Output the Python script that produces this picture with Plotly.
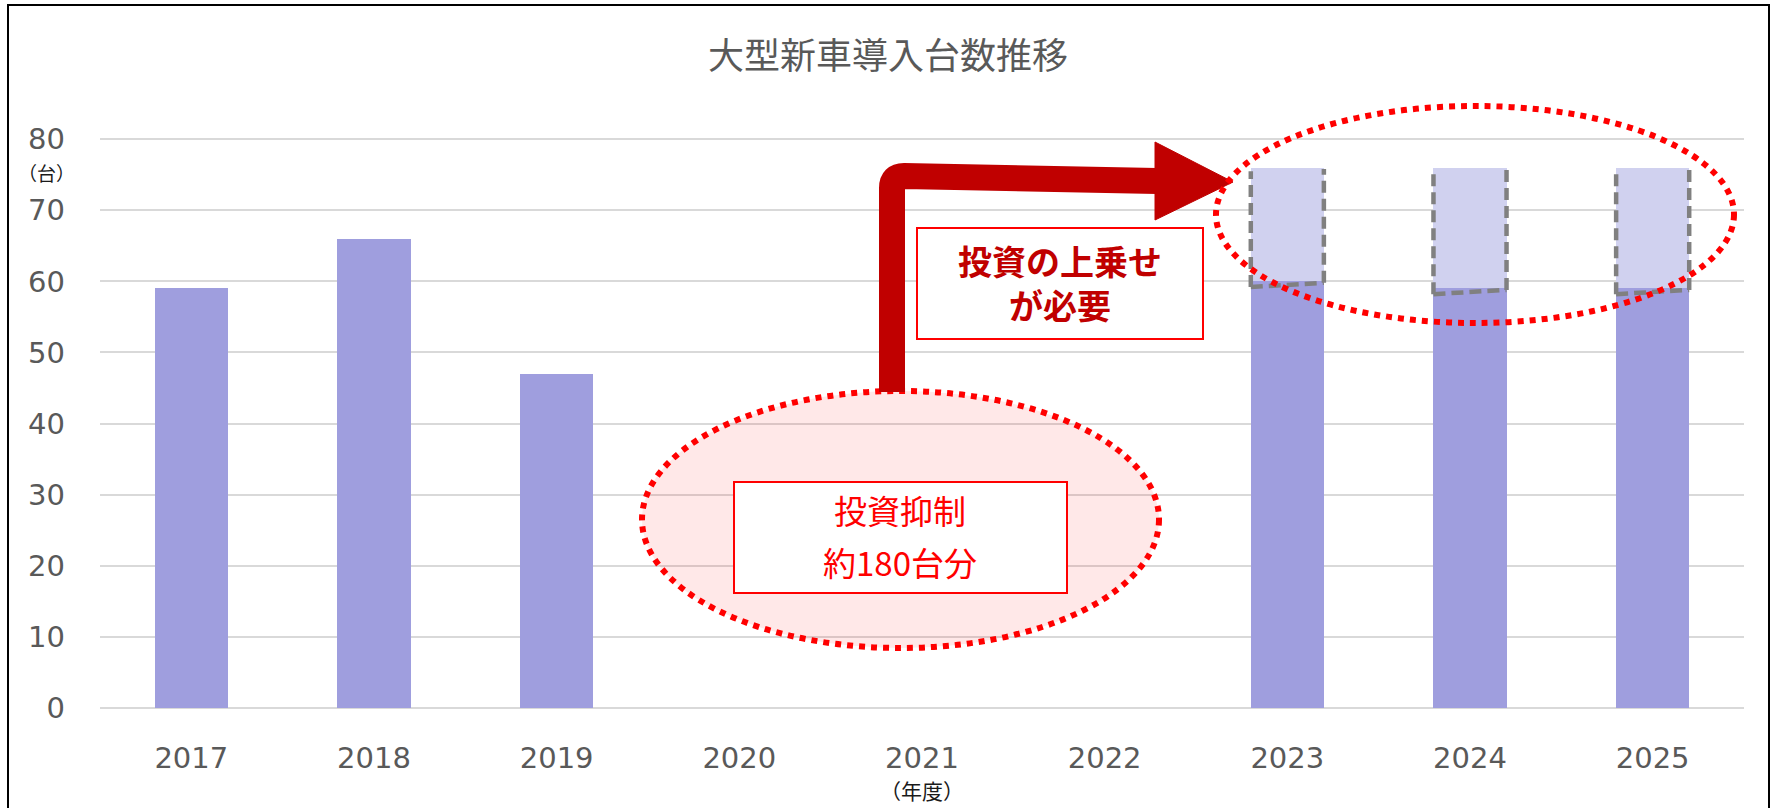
import plotly.graph_objects as go

# ---------------- data ----------------
years = ['2017', '2018', '2019', '2020', '2021', '2022', '2023', '2024', '2025']
actual = [59, 66, 47, None, None, None, 60, 59, 59]      # 導入台数（実績・計画）
extra = [None, None, None, None, None, None, 16, 17, 17]  # 上乗せ分
y_ticks = [0, 10, 20, 30, 40, 50, 60, 70, 80]

title_text = '大型新車導入台数推移'
y_unit = '（台）'
x_unit = '（年度）'
box1_lines = ['投資抑制', '約180台分']
box2_lines = ['投資の上乗せ', 'が必要']

# ---------------- layout helpers ----------------
W, H = 1777, 808
ML, MR, MT, MB = 100, 33, 137, 100
PW, PH = W - ML - MR, H - MT - MB
Y_MAX = 80.3


def px(x):
    return (x - ML) / PW


def py(y):
    return (H - MB - y) / PH


DARK = '#9F9EDE'
LIGHT = '#D0D1EF'
GRID = '#D9D9D9'
TXT = '#595959'
LATIN = 'DejaVu Sans, Noto Sans CJK JP, sans-serif'
CJK = 'Noto Sans CJK JP, sans-serif'

fig = go.Figure()
fig.add_trace(go.Bar(x=years, y=actual, marker=dict(color=DARK, line=dict(width=0)),
                     hoverinfo='skip'))
fig.add_trace(go.Bar(x=years, y=extra, marker=dict(color=LIGHT, line=dict(width=0)),
                     hoverinfo='skip'))

shapes = []
# outer chart border
shapes.append(dict(type='rect', xref='paper', yref='paper',
                   x0=px(8), x1=px(1769), y0=py(812), y1=py(5),
                   line=dict(color='#000000', width=2), fillcolor='rgba(0,0,0,0)',
                   layer='above'))
# lower ellipse (投資抑制)
shapes.append(dict(type='circle', xref='paper', yref='paper',
                   x0=px(642), x1=px(1159), y0=py(648), y1=py(391),
                   fillcolor='rgba(255,0,0,0.09)',
                   line=dict(color='#FF0000', width=6, dash='dot'), layer='above'))
# box 1
shapes.append(dict(type='rect', xref='paper', yref='paper',
                   x0=px(734), x1=px(1067), y0=py(593), y1=py(482),
                   fillcolor='#FFFFFF', line=dict(color='#FF0000', width=2), layer='above'))
# big arrow body
ax_, ay_ = 892, 392
cy_l, cy_r, x_end = 176, 181, 1157
arrow_path = (f'M {px(ax_)},{py(ay_)} L {px(ax_)},{py(cy_l + 12)} '
              f'Q {px(ax_)},{py(cy_l)} {px(ax_ + 12)},{py(cy_l)} '
              f'L {px(x_end)},{py(cy_r)}')
shapes.append(dict(type='path', xref='paper', yref='paper', path=arrow_path,
                   line=dict(color='#C00000', width=26), layer='above'))
head_path = (f'M {px(1155)},{py(142)} L {px(1233)},{py(182)} '
             f'L {px(1155)},{py(220)} Z')
shapes.append(dict(type='path', xref='paper', yref='paper', path=head_path,
                   fillcolor='#C00000', line=dict(color='#C00000', width=1), layer='above'))
# box 2
shapes.append(dict(type='rect', xref='paper', yref='paper',
                   x0=px(917), x1=px(1203), y0=py(339), y1=py(228),
                   fillcolor='#FFFFFF', line=dict(color='#FF0000', width=2), layer='above'))

# dashed outlines around the additional portion
half = 0.2
for i, (a, e) in enumerate(zip(actual, extra)):
    if a is None or e is None:
        continue
    top = a + e
    xl, xr = i - half, i + half
    bl, br = a - 0.8, a - 0.2
    dash_line = dict(color='#808080', width=4.5, dash='12px,6px')
    shapes.append(dict(type='line', xref='x', yref='y', x0=xl, x1=xl,
                       y0=bl, y1=top - 0.5, line=dash_line, layer='above'))
    shapes.append(dict(type='line', xref='x', yref='y', x0=xr, x1=xr,
                       y0=br, y1=top - 0.2, line=dash_line, layer='above'))
    shapes.append(dict(type='line', xref='x', yref='y', x0=xl, x1=xr,
                       y0=bl, y1=br, line=dash_line, layer='above'))

# upper ellipse
shapes.append(dict(type='circle', xref='paper', yref='paper',
                   x0=px(1216), x1=px(1734), y0=py(323), y1=py(106),
                   fillcolor='rgba(0,0,0,0)',
                   line=dict(color='#FF0000', width=6, dash='dot'), layer='above'))

annotations = [
    dict(text=title_text, xref='paper', yref='paper', x=px(888), y=py(53),
         xanchor='center', yanchor='middle', showarrow=False,
         font=dict(family=CJK, size=36, color=TXT)),
    dict(text=y_unit, xref='paper', yref='paper', x=px(46), y=py(172),
         xanchor='center', yanchor='middle', showarrow=False,
         font=dict(family=CJK, size=19, color='#1A1A1A')),
    dict(text=x_unit, xref='paper', yref='paper', x=px(922), y=py(790),
         xanchor='center', yanchor='middle', showarrow=False,
         font=dict(family=CJK, size=21, color='#1A1A1A')),
    dict(text=box1_lines[0], xref='paper', yref='paper', x=px(900), y=py(510),
         xanchor='center', yanchor='middle', showarrow=False,
         font=dict(family=CJK, size=33, color='#FF0000')),
    dict(text=box1_lines[1], xref='paper', yref='paper', x=px(900), y=py(562),
         xanchor='center', yanchor='middle', showarrow=False,
         font=dict(family=CJK, size=33, color='#FF0000')),
    dict(text='<b>' + box2_lines[0] + '</b><br><b>' + box2_lines[1] + '</b>',
         xref='paper', yref='paper', x=px(1060), y=py(282),
         xanchor='center', yanchor='middle', align='center', showarrow=False,
         font=dict(family=CJK, size=34, color='#C00000')),
]

fig.update_layout(
    width=W, height=H,
    margin=dict(l=ML, r=MR, t=MT, b=MB, pad=0),
    barmode='stack', bargap=0.6,
    plot_bgcolor='#FFFFFF', paper_bgcolor='#FFFFFF',
    showlegend=False,
    shapes=shapes, annotations=annotations,
    xaxis=dict(type='category', categoryorder='array', categoryarray=years,
               showgrid=False, showline=False, zeroline=False, ticks='',
               tickfont=dict(family=LATIN, size=29, color=TXT),
               ticklabelstandoff=30, fixedrange=True),
    yaxis=dict(range=[0, Y_MAX], tickvals=y_ticks, ticktext=[str(v) for v in y_ticks],
               showgrid=True, gridcolor=GRID, gridwidth=2,
               zeroline=True, zerolinecolor=GRID, zerolinewidth=2,
               showline=False, ticks='',
               tickfont=dict(family=LATIN, size=29, color=TXT),
               ticklabelstandoff=34, fixedrange=True),
)

fig.write_html('out.html', config={'displayModeBar': False},
               post_script="document.body.style.margin='0';")
